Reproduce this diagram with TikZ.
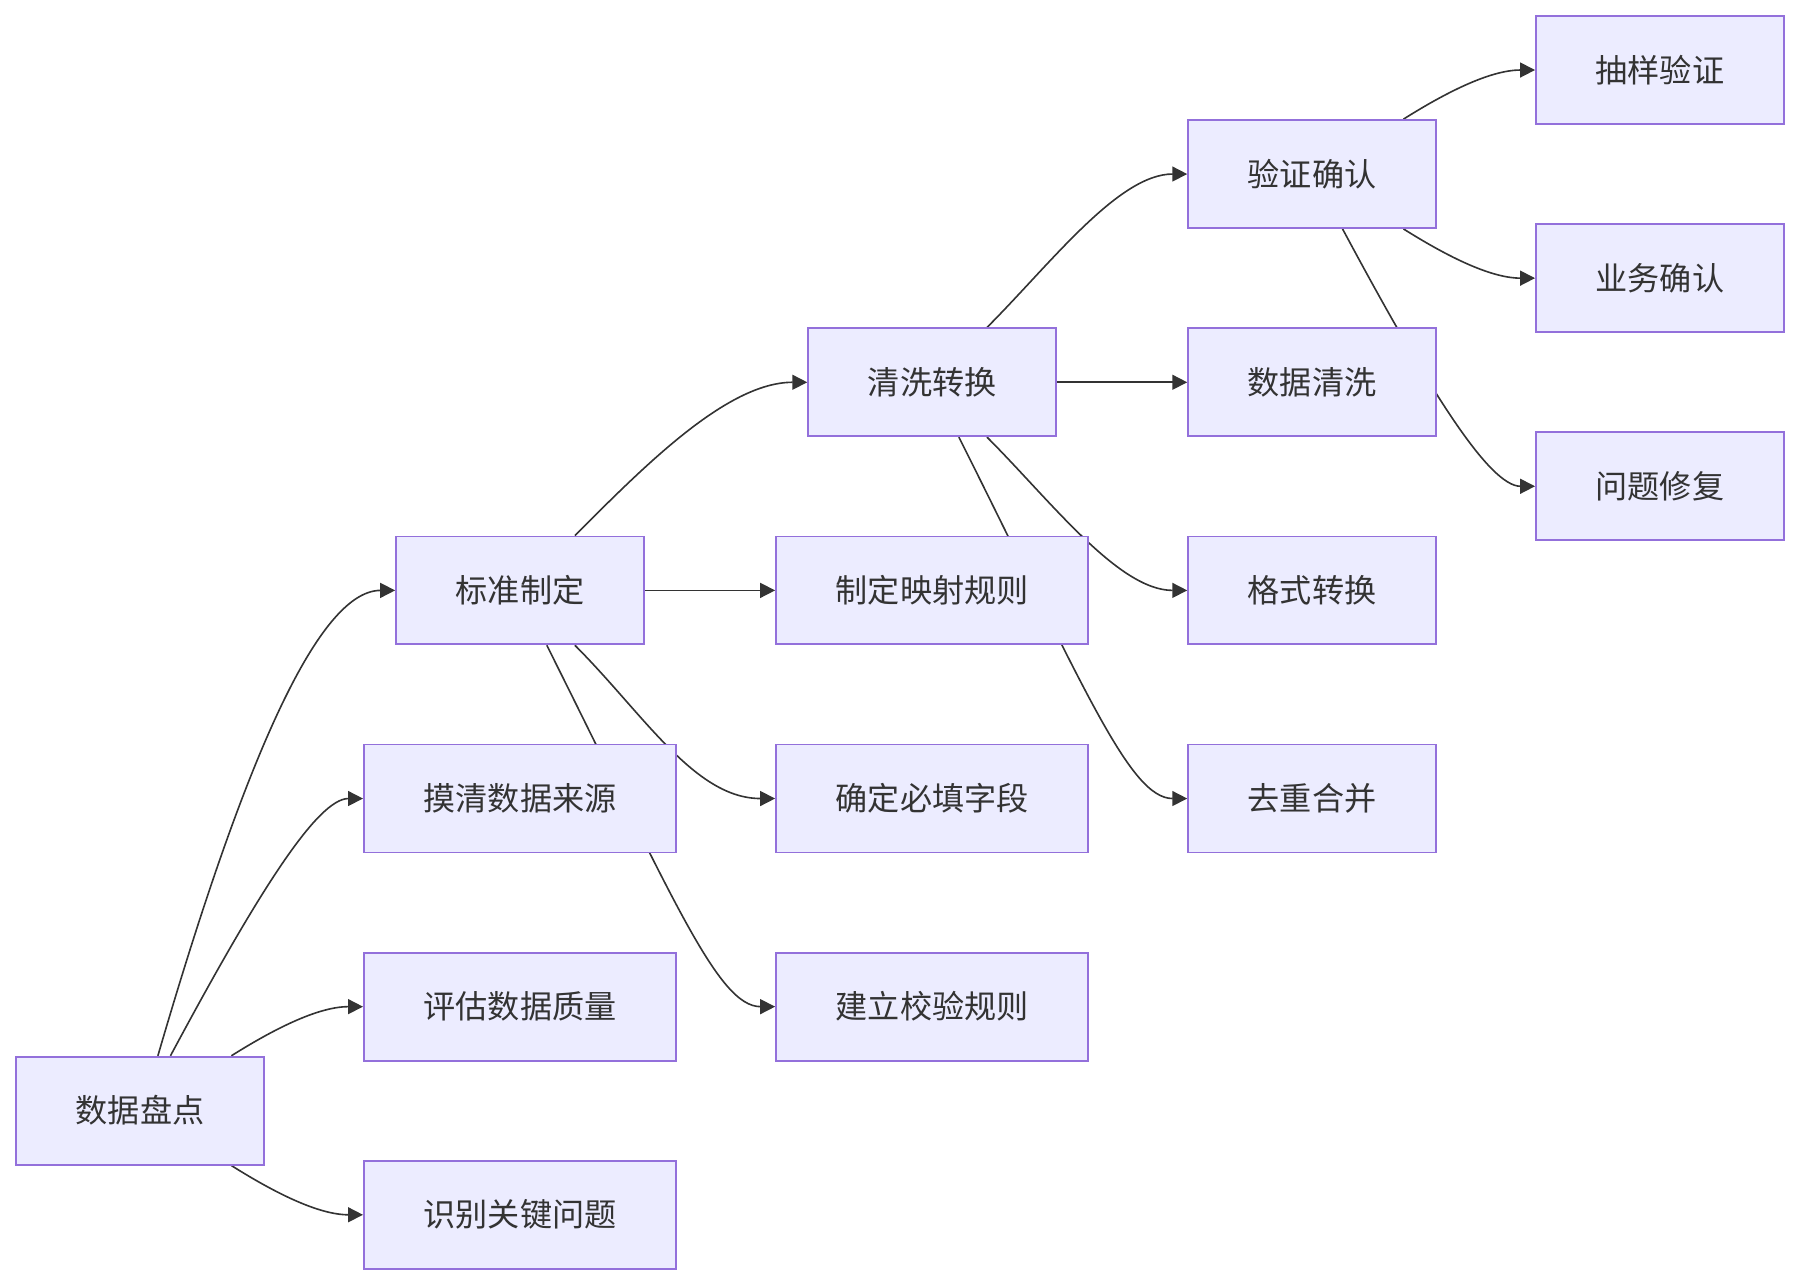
\documentclass[tikz,border=0pt]{standalone}
\usepackage{fontspec}
\newfontfamily\cjk{Noto Sans CJK SC}
\usetikzlibrary{arrows.meta, backgrounds}
\definecolor{boxfill}{HTML}{ECECFF}
\definecolor{boxline}{HTML}{9370DB}
\definecolor{edgeclr}{HTML}{333333}
\definecolor{txtclr}{HTML}{333333}
\tikzset{
  % Bosqich tugunlari
  stepnode/.style = {rectangle, fill=boxfill, draw=boxline, line width=0.8pt,
                     text=txtclr, font=\cjk\fontsize{14}{16}\selectfont,
                     minimum height=47pt, inner sep=0pt},
  shortbox/.style = {stepnode, minimum width=108pt},
  longbox/.style  = {stepnode, minimum width=136pt},
  % O'q chiziqlari
  flow/.style     = {draw=edgeclr, line width=0.7pt,
                     -{Triangle[length=6.5pt,width=6.5pt]}},
}

\begin{document}
\begin{tikzpicture}[x=0.5pt, y=-0.5pt]
  \useasboundingbox (0,0) rectangle (1568,1119);
  % 1-ustun
  \node[shortbox] (pd) at (122,967.5)  {数据盘点};
  % 2-ustun
  \node[shortbox] (bz) at (453,514.3)  {标准制定};
  \node[longbox]  (mq) at (453,695.6)  {摸清数据来源};
  \node[longbox]  (pg) at (453,876.9)  {评估数据质量};
  \node[longbox]  (sb) at (453,1058.2) {识别关键问题};
  % 3-ustun
  \node[shortbox] (qx) at (812,333)    {清洗转换};
  \node[longbox]  (ys) at (812,514.3)  {制定映射规则};
  \node[longbox]  (bt) at (812,695.6)  {确定必填字段};
  \node[longbox]  (jy) at (812,876.9)  {建立校验规则};
  % 4-ustun
  \node[shortbox] (yz) at (1143,151.6) {验证确认};
  \node[shortbox] (sj) at (1143,333)   {数据清洗};
  \node[shortbox] (gs) at (1143,514.3) {格式转换};
  \node[shortbox] (qc) at (1143,695.6) {去重合并};
  % 5-ustun
  \node[shortbox] (cy) at (1446,61)    {抽样验证};
  \node[shortbox] (yw) at (1446,242.3) {业务确认};
  \node[shortbox] (wt) at (1446,423.6) {问题修复};
  % Bog'lanishlar
  \begin{scope}[on background layer]
    \draw[flow] (pd.72)  .. controls +(70,-240) and +(-70,0) .. (bz.west);
    \draw[flow] (pd.61)  .. controls +(75,-140) and +(-40,0) .. (mq.west);
    \draw[flow] (pd.31)  .. controls +(35,-22) and +(-40,0) .. (pg.west);
    \draw[flow] (pd.-31) .. controls +(35,22) and +(-40,0) .. (sb.west);
    \draw[flow] (bz.45)  .. controls +(60,-60) and +(-70,0) .. (qx.west);
    \draw[flow] (bz.east) -- (ys.west);
    \draw[flow] (bz.-45) .. controls +(60,60) and +(-70,0) .. (bt.west);
    \draw[flow] (bz.-64) .. controls +(110,220) and +(-50,0) .. (jy.west);
    \draw[flow] (qx.45)  .. controls +(55,-55) and +(-60,0) .. (yz.west);
    \draw[flow] (qx.east) -- (sj.west);
    \draw[flow] (qx.-45) .. controls +(55,55) and +(-60,0) .. (gs.west);
    \draw[flow] (qx.-64) .. controls +(110,220) and +(-50,0) .. (qc.west);
    \draw[flow] (yz.31)  .. controls +(35,-22) and +(-40,0) .. (cy.west);
    \draw[flow] (yz.-31) .. controls +(35,22) and +(-40,0) .. (yw.west);
    \draw[flow] (yz.-61) .. controls +(75,140) and +(-40,0) .. (wt.west);
  \end{scope}
\end{tikzpicture}
\end{document}
